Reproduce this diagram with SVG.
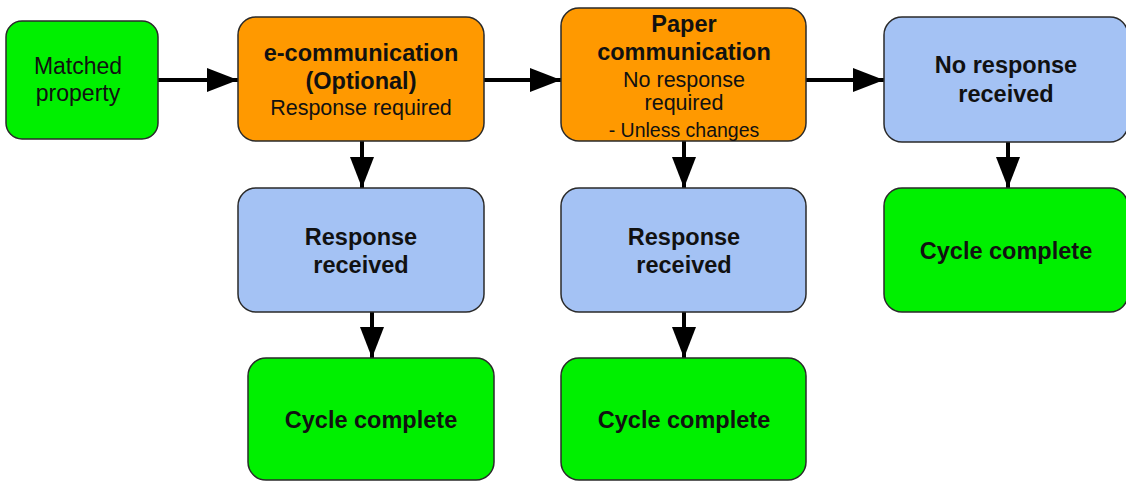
<svg xmlns="http://www.w3.org/2000/svg" width="1126" height="481" viewBox="0 0 1126 481">
<style>
.box{stroke:#2a2a2a;stroke-width:1.5}
.green{fill:#00f000}
.orange{fill:#ff9900}
.blue{fill:#a4c2f4}
text{font-family:"Liberation Sans",Arial,sans-serif;fill:#111;text-anchor:middle}
.b{font-weight:bold;font-size:23.5px}
.r{font-size:21.5px}
.m{font-size:23px}
.s{font-size:19.5px}
.conn{stroke:#000;stroke-width:4;fill:none}
</style>
<defs>
<marker id="ah" markerUnits="userSpaceOnUse" markerWidth="31" markerHeight="24" viewBox="0 0 31 24" refX="31" refY="12" orient="auto">
<path d="M0,0 L31,12 L0,24 Z" fill="#000"/>
</marker>
</defs>
<rect width="1126" height="481" fill="#fff"/>
<g id="connectors">
<line class="conn" x1="158" y1="80" x2="238" y2="80" marker-end="url(#ah)"/>
<line class="conn" x1="484" y1="80" x2="561" y2="80" marker-end="url(#ah)"/>
<line class="conn" x1="806" y1="80" x2="884" y2="80" marker-end="url(#ah)"/>
<line class="conn" x1="362" y1="141" x2="362" y2="188" marker-end="url(#ah)"/>
<line class="conn" x1="684" y1="141" x2="684" y2="188" marker-end="url(#ah)"/>
<line class="conn" x1="1008" y1="142" x2="1008" y2="188" marker-end="url(#ah)"/>
<line class="conn" x1="372" y1="312" x2="372" y2="358" marker-end="url(#ah)"/>
<line class="conn" x1="684" y1="312" x2="684" y2="358" marker-end="url(#ah)"/>
</g>
<g id="matched">
<rect class="box green" x="6" y="21" width="152" height="118" rx="16"/>
<text class="m" x="78" y="74">Matched</text>
<text class="m" x="78" y="101">property</text>
</g>
<g id="ecomm">
<rect class="box orange" x="238" y="17" width="246" height="124" rx="18"/>
<text class="b" x="361" y="61">e-communication</text>
<text class="b" x="361" y="89">(Optional)</text>
<text class="r" x="361" y="115">Response required</text>
</g>
<g id="paper">
<rect class="box orange" x="561" y="8" width="245" height="133" rx="18"/>
<text class="b" x="684" y="32">Paper</text>
<text class="b" x="684" y="60">communication</text>
<text class="r" x="684" y="87">No response</text>
<text class="r" x="684" y="110">required</text>
<text class="s" x="684" y="137">- Unless changes</text>
</g>
<g id="noresp">
<rect class="box blue" x="884" y="17" width="244" height="125" rx="18"/>
<text class="b" x="1006" y="73">No response</text>
<text class="b" x="1006" y="102">received</text>
</g>
<g id="resp1">
<rect class="box blue" x="238" y="188" width="246" height="124" rx="18"/>
<text class="b" x="361" y="245">Response</text>
<text class="b" x="361" y="273">received</text>
</g>
<g id="resp2">
<rect class="box blue" x="561" y="188" width="245" height="124" rx="18"/>
<text class="b" x="684" y="245">Response</text>
<text class="b" x="684" y="273">received</text>
</g>
<g id="cycle3">
<rect class="box green" x="884" y="188" width="244" height="124" rx="18"/>
<text class="b" x="1006" y="259">Cycle complete</text>
</g>
<g id="cycle1">
<rect class="box green" x="248" y="358" width="246" height="122" rx="18"/>
<text class="b" x="371" y="428">Cycle complete</text>
</g>
<g id="cycle2">
<rect class="box green" x="561" y="358" width="245" height="122" rx="18"/>
<text class="b" x="684" y="428">Cycle complete</text>
</g>
</svg>
